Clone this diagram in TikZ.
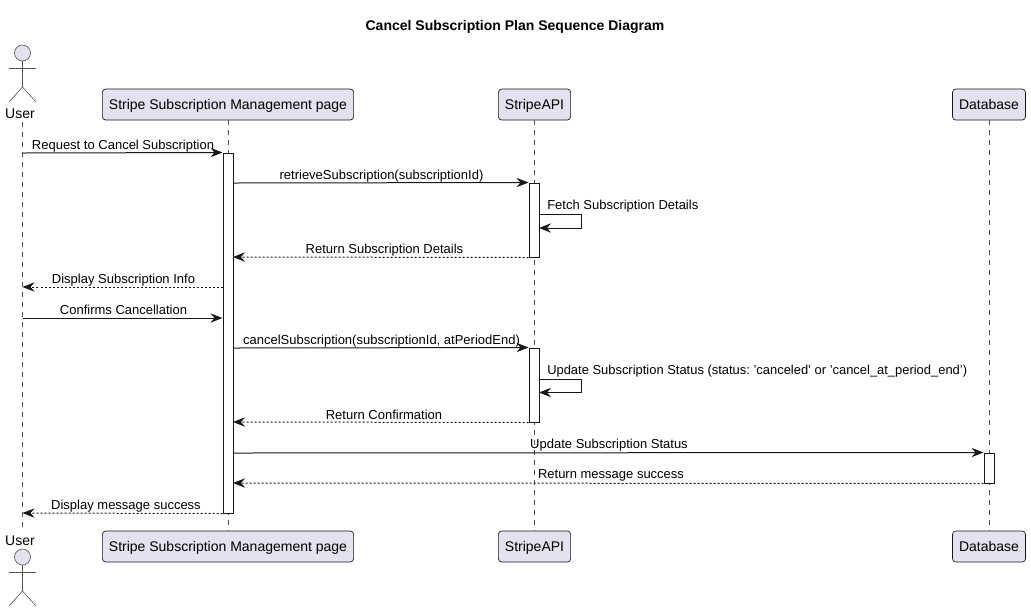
\documentclass[tikz,border=0pt]{standalone}
\usepackage{fontspec}
\setmainfont{Liberation Sans}
\usetikzlibrary{arrows.meta}

\definecolor{boxfill}{HTML}{E2E2F0}
\definecolor{ink}{HTML}{181818}

\begin{document}
\begin{tikzpicture}[x=0.75pt, y=-0.75pt,
    participant/.style={draw=ink, fill=boxfill, line width=0.5pt, rounded corners=2.5pt, inner xsep=4.9pt, inner ysep=0pt, minimum height=23.25pt, text height=8.3pt, text depth=0.3pt, font=\fontsize{10.5}{12}\selectfont},
    lifeline/.style={draw=ink!75, line width=0.45pt, dash pattern=on 3.75pt off 3.75pt},
    actorline/.style={draw=ink!75, line width=0.45pt},
    activation/.style={draw=ink, fill=white, line width=0.75pt, minimum width=7.5pt, inner sep=0pt},
    msg/.style={draw=ink, line width=0.75pt, -{Stealth[length=9pt, width=7pt, inset=3pt]}},
    reply/.style={msg, dash pattern=on 1.5pt off 1.5pt},
    label/.style={font=\fontsize{9.75}{12}\selectfont\frenchspacing, inner sep=0pt}]
    \useasboundingbox (0, 0) rectangle (1031, 612);

    \node[font=\fontsize{10.5}{12}\selectfont\bfseries] (title) at (515, 27) {Cancel Subscription Plan Sequence Diagram};

    % participants
    \node[font=\fontsize{10.5}{12}\selectfont, inner sep=0pt] (user) at (20, 114) {User};
    \node[participant] (page) at (228, 104.5) {Stripe Subscription Management page};
    \node[participant] (api) at (534.5, 104.5) {StripeAPI};
    \node[participant] (db) at (989, 104.5) {Database};

    \node[font=\fontsize{10.5}{12}\selectfont, inner sep=0pt] (userEnd) at (20, 541) {User};
    \node[participant] (pageEnd) at (228, 546.5) {Stripe Subscription Management page};
    \node[participant] (apiEnd) at (534.5, 546.5) {StripeAPI};
    \node[participant] (dbEnd) at (989, 546.5) {Database};

    % actor figures
    \foreach \y in {53, 557} {
        \draw[actorline, fill=boxfill] (22.5, \y) circle (6pt);
        \draw[actorline] (22.5, \y+8) -- (22.5, \y+34) -- (9, \y+49);
        \draw[actorline] (22.5, \y+34) -- (36, \y+49);
        \draw[actorline] (9, \y+15) -- (36, \y+15);
    }

    % lifelines
    \draw[lifeline] (22.5, 122) -- (22.5, 527);
    \draw[lifeline] (page) -- (pageEnd);
    \draw[lifeline] (api) -- (apiEnd);
    \draw[lifeline] (db) -- (dbEnd);

    % activations
    \node[activation, minimum height=270pt] (pageBar) at (228, 333) {};
    \node[activation, minimum height=55.5pt] (apiBarA) at (534, 220) {};
    \node[activation, minimum height=55.5pt] (apiBarB) at (534, 385) {};
    \node[activation, minimum height=22.5pt] (dbBar) at (989, 468) {};

    \coordinate (u1) at (22.5, 153);
    \coordinate (u4) at (22.5, 287);
    \coordinate (u5) at (22.5, 318);
    \coordinate (u10) at (22.5, 513);
    \coordinate (p2) at (233, 183);
    \coordinate (p3) at (233, 257);
    \coordinate (p6) at (233, 348);
    \coordinate (p7) at (233, 422);
    \coordinate (p8) at (233, 453);
    \coordinate (p9) at (233, 483);
    \coordinate (a1) at (539, 214);
    \coordinate (a2) at (581.5, 214);
    \coordinate (a3) at (581.5, 228);
    \coordinate (a4) at (539, 228);
    \coordinate (b1) at (539, 379);
    \coordinate (b2) at (581.5, 379);
    \coordinate (b3) at (581.5, 392.5);
    \coordinate (b4) at (539, 392.5);

    % messages
    \draw[msg] (u1) -- (pageBar.north west);
    \node[label] (m1) at (123, 146) {Request to Cancel Subscription};

    \draw[msg] (p2) -- (apiBarA.north west);
    \node[label] (m2) at (381.5, 176) {retrieveSubscription(subscriptionId)};

    \draw[msg] (a1) -- (a2) -- (a3) -- (a4);
    \node[label, anchor=west] (m3) at (547, 206) {Fetch Subscription Details};

    \draw[reply] (apiBarA.south west) -- (p3);
    \node[label] (m4) at (384.5, 250) {Return Subscription Details};

    \draw[reply] (pageBar.west |- u4) -- (u4);
    \node[label] (m5) at (123.5, 280) {Display Subscription Info};

    \draw[msg] (u5) -- (pageBar.west |- u5);
    \node[label] (m6) at (123.5, 310) {Confirms Cancellation};

    \draw[msg] (p6) -- (apiBarB.north west);
    \node[label] (m7) at (381.5, 341) {cancelSubscription(subscriptionId, atPeriodEnd)};

    \draw[msg] (b1) -- (b2) -- (b3) -- (b4);
    \node[label, anchor=west, font=\fontsize{9.7}{12}\selectfont\frenchspacing] (m8) at (547, 371) {Update Subscription Status (status: 'canceled' or 'cancel\_at\_period\_end')};

    \draw[reply] (apiBarB.south west) -- (p7);
    \node[label] (m9) at (384, 415) {Return Confirmation};

    \draw[msg] (p8) -- (dbBar.north west);
    \node[label] (m10) at (609, 445) {Update Subscription Status};

    \draw[reply] (dbBar.south west) -- (p9);
    \node[label] (m11) at (611, 475) {Return message success};

    \draw[reply] (pageBar.south west) -- (u10);
    \node[label] (m12) at (126, 506) {Display message success};
\end{tikzpicture}
\end{document}
